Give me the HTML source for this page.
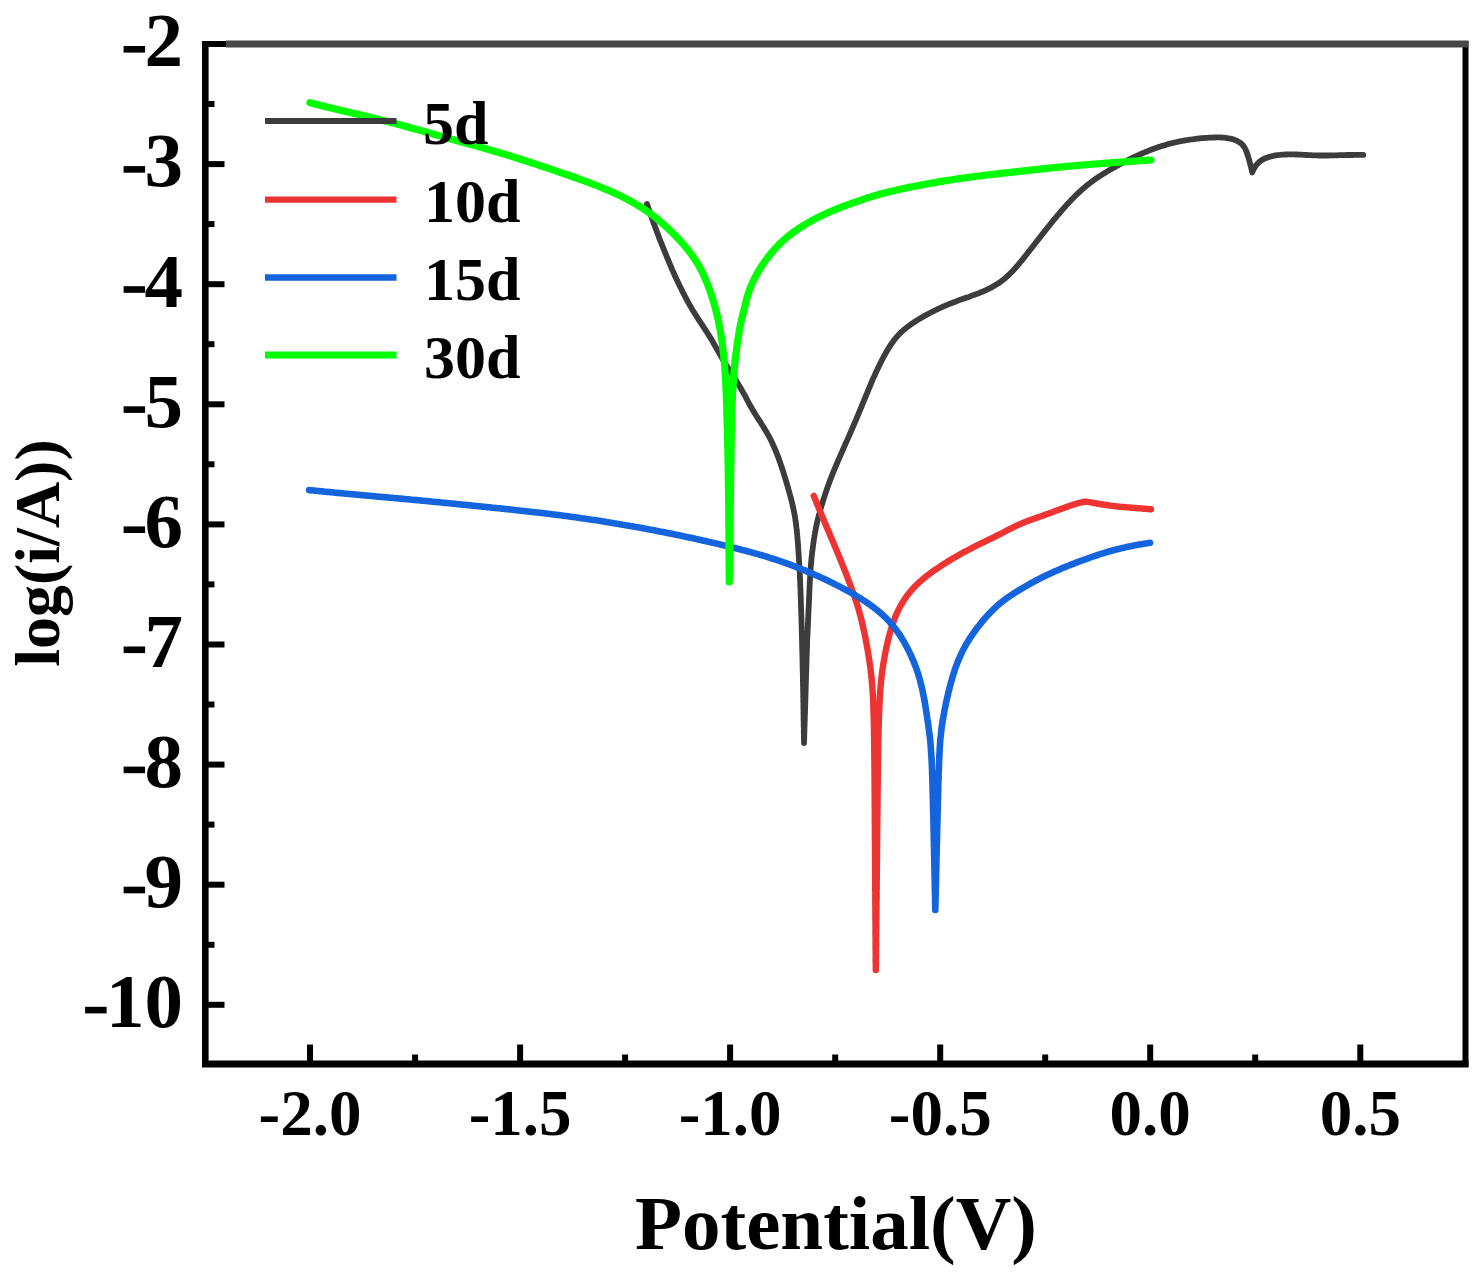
<!DOCTYPE html>
<html><head><meta charset="utf-8"><style>
html,body{margin:0;padding:0;background:#fff;}
body{width:1479px;height:1286px;overflow:hidden;}
svg{display:block;}
text{font-family:"Liberation Serif",serif;font-weight:bold;fill:#000;}
.yl{font-size:77px;}
.xl{font-size:65px;}
.lt{font-size:62px;}
.at{font-size:77px;}
.at2{font-size:64px;}
</style></head><body>
<svg width="1479" height="1286" viewBox="0 0 1479 1286">
<rect width="1479" height="1286" fill="#fff"/>
<g fill="none" stroke-linejoin="round" stroke-linecap="round">
<path d="M647.0,204.0L647.5,205.4 648.0,206.9 648.4,208.3 648.9,209.7 649.4,211.1 649.9,212.5 650.4,214.0 650.9,215.4 651.4,216.8 651.9,218.2 652.4,219.6 652.9,221.0 653.4,222.5 653.9,223.9 654.5,225.3 655.0,226.7 655.5,228.1 656.0,229.5 656.6,230.9 657.1,232.3 657.6,233.7 658.2,235.1 658.7,236.6 659.2,238.0 659.8,239.4 660.3,240.8 660.9,242.1 661.5,243.5 662.0,244.9 662.6,246.3 663.1,247.7 663.7,249.1 664.3,250.5 664.8,251.9 665.4,253.3 666.0,254.7 666.5,256.1 667.1,257.5 667.7,258.9 668.3,260.3 668.8,261.7 669.4,263.0 670.0,264.4 670.6,265.8 671.2,267.2 671.7,268.6 672.3,270.0 673.0,271.3 673.6,272.7 674.2,274.1 674.8,275.5 675.4,276.8 676.0,278.2 676.7,279.6 677.3,280.9 678.0,282.3 678.6,283.6 679.3,285.0 679.9,286.3 680.6,287.7 681.3,289.0 681.9,290.4 682.6,291.7 683.3,293.1 684.0,294.4 684.7,295.7 685.4,297.1 686.1,298.4 686.8,299.7 687.5,301.1 688.2,302.4 688.9,303.7 689.7,305.0 690.4,306.3 691.2,307.6 691.9,308.9 692.7,310.2 693.5,311.5 694.3,312.8 695.1,314.1 695.9,315.3 696.7,316.6 697.5,317.9 698.3,319.1 699.1,320.4 700.0,321.6 700.8,322.9 701.6,324.1 702.5,325.4 703.3,326.6 704.1,327.9 704.9,329.2 705.7,330.4 706.6,331.7 707.4,333.0 708.2,334.2 709.0,335.5 709.8,336.8 710.6,338.1 711.3,339.3 712.1,340.6 712.9,341.9 713.6,343.2 714.3,344.6 715.1,345.9 715.8,347.2 716.6,348.5 717.3,349.8 718.1,351.1 718.8,352.4 719.5,353.7 720.3,355.0 721.0,356.3 721.8,357.6 722.5,358.9 723.3,360.2 724.0,361.5 724.8,362.8 725.6,364.1 726.4,365.4 727.2,366.7 728.0,367.9 728.8,369.2 729.6,370.5 730.4,371.8 731.2,373.0 732.0,374.3 732.8,375.6 733.6,376.8 734.5,378.1 735.3,379.3 736.1,380.6 736.9,381.9 737.7,383.2 738.4,384.5 739.2,385.7 740.0,387.0 740.7,388.3 741.5,389.6 742.2,390.9 743.0,392.3 743.7,393.6 744.5,394.9 745.2,396.2 745.9,397.5 746.6,398.9 747.3,400.2 748.0,401.5 748.7,402.8 749.4,404.1 750.2,405.5 750.9,406.8 751.7,408.1 752.4,409.4 753.2,410.7 754.0,412.0 754.7,413.2 755.5,414.5 756.3,415.8 757.1,417.1 757.9,418.3 758.7,419.6 759.6,420.9 760.4,422.1 761.2,423.4 762.0,424.7 762.8,426.0 763.6,427.2 764.4,428.5 765.1,429.8 765.9,431.1 766.7,432.4 767.4,433.7 768.2,435.0 768.9,436.3 769.6,437.7 770.3,439.0 771.0,440.3 771.6,441.7 772.3,443.0 772.9,444.4 773.5,445.8 774.1,447.1 774.7,448.5 775.3,449.9 775.9,451.3 776.4,452.7 777.0,454.1 777.5,455.5 778.1,456.9 778.6,458.3 779.1,459.7 779.6,461.2 780.1,462.6 780.6,464.0 781.1,465.4 781.6,466.8 782.0,468.3 782.5,469.7 783.0,471.1 783.4,472.6 783.9,474.0 784.3,475.4 784.8,476.9 785.2,478.3 785.6,479.8 786.1,481.2 786.5,482.6 786.9,484.1 787.4,485.5 787.8,487.0 788.2,488.4 788.6,489.9 789.0,491.3 789.4,492.8 789.8,494.2 790.2,495.7 790.6,497.1 791.0,498.6 791.4,500.0 791.7,501.5 792.1,502.9 792.4,504.4 792.8,505.9 793.1,507.3 793.4,508.8 793.7,510.3 794.0,511.8 794.3,513.2 794.6,514.7 794.9,516.2 795.1,517.7 795.3,519.2 795.5,520.6 795.8,522.1 796.0,523.6 796.1,525.1 796.3,526.6 796.5,528.1 796.7,529.6 796.8,531.1 797.0,532.6 797.1,534.1 797.3,535.6 797.4,537.1 797.5,538.6 797.6,540.1 797.8,541.6 797.9,543.1 798.0,544.6 798.1,546.1 798.2,547.6 798.3,549.1 798.4,550.6 798.5,552.1 798.6,553.6 798.7,555.1 798.8,556.6 798.9,558.1 799.0,559.6 799.1,561.1 799.2,562.6 799.3,564.1 799.3,565.6 799.4,567.1 799.5,568.6 799.6,570.1 799.7,571.6 799.7,573.1 799.8,574.6 799.9,576.1 800.0,577.6 800.0,579.1 800.1,580.6 800.2,582.1 800.2,583.6 800.3,585.1 800.3,586.6 800.4,588.1 800.5,589.6 800.5,591.1 800.6,592.6 800.6,594.1 800.7,595.6 800.7,597.2 800.8,598.7 800.8,600.2 800.9,601.7 800.9,603.2 801.0,604.7 801.0,606.2 801.1,607.7 801.1,609.2 801.2,610.7 801.2,612.2 801.3,613.7 801.3,615.2 801.4,616.7 801.4,618.2 801.5,619.7 801.5,621.2 801.5,622.7 801.6,624.2 801.6,625.7 801.7,627.2 801.7,628.7 801.7,630.2 801.8,631.7 801.8,633.2 801.9,634.7 801.9,636.2 801.9,637.7 802.0,639.2 802.0,640.7 802.1,642.3 802.1,643.8 802.1,645.3 802.2,646.8 802.2,648.3 802.2,649.8 802.3,651.3 802.3,652.8 802.4,654.3 802.4,655.8 802.4,657.3 802.5,658.8 802.5,660.3 802.5,661.8 802.6,663.3 802.6,664.8 802.6,666.3 802.7,667.8 802.7,669.3 802.7,670.8 802.8,672.3 802.8,673.8 802.8,675.3 802.9,676.8 802.9,678.3 802.9,679.8 802.9,681.3 803.0,682.8 803.0,684.4 803.0,685.9 803.1,687.4 803.1,688.9 803.1,690.4 803.1,691.9 803.2,693.4 803.2,694.9 803.2,696.4 803.3,697.9 803.3,699.4 803.3,700.9 803.3,702.4 803.4,703.9 803.4,705.4 803.4,706.9 803.4,708.4 803.5,709.9 803.5,711.4 803.5,712.9 803.5,714.4 803.6,715.9 803.6,717.4 803.6,718.9 803.6,720.4 803.7,721.9 803.7,723.5 803.7,725.0 803.7,726.5 803.8,728.0 803.8,729.5 803.8,731.0 803.8,732.5 803.9,734.0 803.9,735.5 803.9,737.0 803.9,738.5 804.0,740.0 804.0,741.5 804.0,743.0L804.1,741.5 804.1,740.0 804.2,738.5 804.2,737.0 804.2,735.5 804.3,734.0 804.3,732.5 804.4,731.0 804.4,729.5 804.5,728.0 804.5,726.5 804.6,725.0 804.6,723.4 804.7,721.9 804.7,720.4 804.8,718.9 804.8,717.4 804.9,715.9 804.9,714.4 805.0,712.9 805.0,711.4 805.1,709.9 805.1,708.4 805.2,706.9 805.2,705.4 805.3,703.9 805.3,702.4 805.3,700.9 805.4,699.4 805.4,697.9 805.5,696.4 805.5,694.9 805.6,693.4 805.6,691.9 805.7,690.4 805.7,688.9 805.7,687.4 805.8,685.8 805.8,684.3 805.9,682.8 805.9,681.3 806.0,679.8 806.0,678.3 806.0,676.8 806.1,675.3 806.1,673.8 806.2,672.3 806.2,670.8 806.3,669.3 806.3,667.8 806.4,666.3 806.4,664.8 806.5,663.3 806.5,661.8 806.5,660.3 806.6,658.8 806.6,657.3 806.7,655.8 806.7,654.3 806.8,652.8 806.8,651.3 806.9,649.7 806.9,648.2 807.0,646.7 807.0,645.2 807.1,643.7 807.1,642.2 807.2,640.7 807.3,639.2 807.3,637.7 807.4,636.2 807.5,634.7 807.5,633.2 807.6,631.7 807.7,630.2 807.7,628.7 807.8,627.2 807.9,625.7 807.9,624.2 808.0,622.7 808.1,621.2 808.1,619.7 808.2,618.2 808.3,616.7 808.3,615.2 808.4,613.7 808.5,612.2 808.5,610.7 808.6,609.2 808.7,607.7 808.8,606.2 808.8,604.6 808.9,603.1 809.0,601.6 809.0,600.1 809.1,598.6 809.2,597.1 809.2,595.6 809.3,594.1 809.3,592.6 809.4,591.1 809.5,589.6 809.5,588.1 809.6,586.6 809.7,585.1 809.7,583.6 809.8,582.1 809.9,580.6 810.0,579.1 810.1,577.6 810.2,576.1 810.2,574.6 810.3,573.1 810.4,571.6 810.5,570.1 810.6,568.6 810.7,567.1 810.9,565.6 811.0,564.1 811.1,562.6 811.3,561.1 811.4,559.6 811.5,558.1 811.7,556.6 811.9,555.1 812.0,553.6 812.2,552.1 812.4,550.6 812.6,549.1 812.8,547.6 813.0,546.1 813.2,544.6 813.4,543.1 813.6,541.7 813.8,540.2 814.0,538.7 814.3,537.2 814.5,535.7 814.8,534.2 815.0,532.7 815.3,531.3 815.6,529.8 815.8,528.3 816.1,526.8 816.5,525.4 816.8,523.9 817.1,522.4 817.4,521.0 817.8,519.5 818.2,518.0 818.5,516.6 818.9,515.1 819.3,513.7 819.7,512.2 820.1,510.8 820.5,509.3 820.9,507.9 821.3,506.4 821.8,505.0 822.2,503.5 822.6,502.1 823.1,500.7 823.5,499.2 824.0,497.8 824.5,496.4 824.9,494.9 825.4,493.5 825.9,492.1 826.4,490.7 826.9,489.2 827.4,487.8 827.9,486.4 828.4,485.0 828.9,483.6 829.4,482.2 830.0,480.7 830.5,479.3 831.0,477.9 831.6,476.5 832.1,475.1 832.7,473.7 833.2,472.3 833.8,470.9 834.4,469.5 834.9,468.2 835.5,466.8 836.1,465.4 836.7,464.0 837.3,462.6 837.9,461.2 838.5,459.8 839.1,458.5 839.7,457.1 840.3,455.7 840.9,454.3 841.5,452.9 842.1,451.6 842.7,450.2 843.3,448.8 843.9,447.4 844.5,446.1 845.1,444.7 845.7,443.3 846.4,441.9 847.0,440.6 847.6,439.2 848.2,437.8 848.8,436.4 849.4,435.1 850.0,433.7 850.6,432.3 851.2,430.9 851.8,429.5 852.4,428.2 853.0,426.8 853.6,425.4 854.2,424.0 854.8,422.6 855.4,421.3 856.0,419.9 856.6,418.5 857.1,417.1 857.7,415.7 858.3,414.3 858.9,412.9 859.5,411.5 860.0,410.2 860.6,408.8 861.2,407.4 861.8,406.0 862.3,404.6 862.9,403.2 863.5,401.8 864.1,400.4 864.6,399.0 865.2,397.6 865.8,396.2 866.3,394.8 866.9,393.5 867.5,392.1 868.1,390.7 868.6,389.3 869.2,387.9 869.8,386.5 870.4,385.1 871.0,383.7 871.5,382.3 872.1,381.0 872.7,379.6 873.3,378.2 874.0,376.8 874.6,375.5 875.2,374.1 875.8,372.7 876.4,371.3 877.1,370.0 877.7,368.6 878.4,367.3 879.0,365.9 879.7,364.6 880.4,363.2 881.1,361.9 881.7,360.5 882.4,359.2 883.1,357.9 883.8,356.5 884.6,355.2 885.3,353.9 886.0,352.6 886.8,351.3 887.5,350.0 888.3,348.7 889.1,347.4 889.9,346.1 890.7,344.9 891.6,343.6 892.4,342.4 893.3,341.2 894.2,340.0 895.1,338.8 896.1,337.6 897.1,336.5 898.1,335.4 899.1,334.3 900.2,333.2 901.3,332.1 902.4,331.1 903.5,330.1 904.6,329.2 905.8,328.2 907.0,327.3 908.2,326.4 909.4,325.5 910.6,324.6 911.9,323.7 913.1,322.9 914.4,322.0 915.6,321.2 916.9,320.4 918.2,319.6 919.5,318.8 920.8,318.1 922.1,317.3 923.4,316.6 924.7,315.8 926.0,315.1 927.3,314.4 928.6,313.7 930.0,313.0 931.3,312.3 932.6,311.6 934.0,310.9 935.3,310.2 936.7,309.6 938.1,308.9 939.4,308.3 940.8,307.7 942.2,307.0 943.5,306.4 944.9,305.8 946.3,305.3 947.7,304.7 949.1,304.1 950.5,303.6 951.9,303.0 953.3,302.5 954.7,301.9 956.1,301.4 957.5,300.8 958.9,300.3 960.3,299.8 961.8,299.3 963.2,298.8 964.6,298.3 966.0,297.8 967.4,297.4 968.9,296.9 970.3,296.3 971.7,295.8 973.1,295.3 974.5,294.8 975.9,294.2 977.3,293.7 978.7,293.2 980.2,292.6 981.6,292.1 982.9,291.5 984.3,290.9 985.7,290.3 987.0,289.6 988.4,289.0 989.7,288.3 991.1,287.6 992.4,286.9 993.7,286.1 995.0,285.4 996.3,284.6 997.6,283.8 998.8,283.0 1000.1,282.1 1001.3,281.2 1002.5,280.3 1003.6,279.4 1004.8,278.4 1006.0,277.4 1007.1,276.4 1008.2,275.4 1009.3,274.4 1010.4,273.3 1011.4,272.3 1012.5,271.2 1013.5,270.1 1014.5,269.0 1015.5,267.8 1016.5,266.7 1017.5,265.6 1018.5,264.4 1019.5,263.3 1020.4,262.1 1021.4,261.0 1022.3,259.8 1023.3,258.6 1024.2,257.4 1025.1,256.2 1026.1,255.1 1027.0,253.9 1027.9,252.7 1028.8,251.5 1029.8,250.3 1030.7,249.1 1031.6,248.0 1032.6,246.8 1033.5,245.6 1034.4,244.4 1035.3,243.2 1036.3,242.0 1037.2,240.8 1038.1,239.7 1039.0,238.5 1040.0,237.3 1040.9,236.1 1041.8,234.9 1042.8,233.7 1043.7,232.6 1044.6,231.4 1045.6,230.2 1046.5,229.0 1047.4,227.8 1048.4,226.7 1049.3,225.5 1050.3,224.3 1051.2,223.1 1052.1,222.0 1053.1,220.8 1054.0,219.6 1055.0,218.5 1056.0,217.3 1056.9,216.2 1057.9,215.0 1058.9,213.9 1059.8,212.7 1060.8,211.6 1061.8,210.4 1062.8,209.3 1063.8,208.2 1064.8,207.0 1065.8,205.9 1066.8,204.8 1067.8,203.7 1068.8,202.6 1069.9,201.5 1070.9,200.4 1071.9,199.3 1073.0,198.2 1074.0,197.1 1075.1,196.1 1076.2,195.0 1077.2,194.0 1078.3,193.0 1079.4,191.9 1080.6,190.9 1081.7,189.9 1082.8,188.9 1083.9,187.9 1085.1,186.9 1086.2,186.0 1087.4,185.0 1088.6,184.1 1089.8,183.2 1091.0,182.3 1092.2,181.4 1093.4,180.5 1094.6,179.6 1095.9,178.7 1097.1,177.9 1098.4,177.0 1099.6,176.2 1100.9,175.4 1102.1,174.6 1103.4,173.8 1104.7,173.0 1106.0,172.2 1107.2,171.4 1108.5,170.6 1109.8,169.9 1111.1,169.1 1112.5,168.4 1113.8,167.6 1115.1,166.9 1116.4,166.2 1117.7,165.5 1119.0,164.7 1120.4,164.0 1121.7,163.3 1123.0,162.6 1124.4,161.9 1125.7,161.3 1127.0,160.6 1128.4,159.9 1129.7,159.2 1131.1,158.5 1132.4,157.9 1133.8,157.2 1135.2,156.6 1136.5,156.0 1137.9,155.3 1139.3,154.7 1140.6,154.1 1142.0,153.5 1143.4,152.9 1144.8,152.3 1146.2,151.7 1147.6,151.2 1149.0,150.6 1150.4,150.0 1151.8,149.5 1153.2,148.9 1154.6,148.4 1156.0,147.9 1157.4,147.4 1158.8,146.9 1160.3,146.5 1161.7,146.0 1163.1,145.6 1164.6,145.2 1166.0,144.7 1167.5,144.3 1168.9,143.9 1170.4,143.5 1171.9,143.2 1173.3,142.8 1174.8,142.5 1176.3,142.2 1177.7,141.8 1179.2,141.5 1180.7,141.2 1182.2,141.0 1183.6,140.7 1185.1,140.4 1186.6,140.2 1188.1,140.0 1189.6,139.7 1191.1,139.5 1192.6,139.3 1194.1,139.1 1195.5,138.9 1197.0,138.7 1198.5,138.5 1200.0,138.4 1201.5,138.2 1203.0,138.1 1204.5,138.0 1206.0,137.9 1207.5,137.8 1209.0,137.7 1210.5,137.6 1212.0,137.6 1213.5,137.5 1215.1,137.5 1216.6,137.4 1218.1,137.4 1219.6,137.4 1221.1,137.5 1222.6,137.6 1224.1,137.7 1225.6,137.9 1227.1,138.1 1228.6,138.3 1230.0,138.6 1231.5,138.9 1233.0,139.3 1234.4,139.8 1235.8,140.4 1237.2,141.0 1238.5,141.7 1239.8,142.5 1241.0,143.4 1242.1,144.4 1243.1,145.5 1244.0,146.8 1244.8,148.1 1245.5,149.4 1246.1,150.8 1246.6,152.2 1247.2,153.6 1247.6,155.0 1248.1,156.5 1248.5,157.9 1249.0,159.3 1249.4,160.8 1249.7,162.3 1250.1,163.7 1250.5,165.2 1250.9,166.6 1251.2,168.1 1251.6,169.6 1251.9,171.0 1252.2,172.5L1252.8,171.0 1253.4,169.6 1254.2,168.3 1255.0,167.0 1255.8,165.7 1256.8,164.5 1257.8,163.3 1258.9,162.2 1260.1,161.3 1261.3,160.4 1262.6,159.6 1264.0,158.9 1265.4,158.2 1266.8,157.7 1268.3,157.2 1269.8,156.7 1271.3,156.3 1272.8,156.0 1274.3,155.7 1275.8,155.4 1277.3,155.2 1278.8,155.0 1280.4,154.8 1281.9,154.7 1283.4,154.6 1285.0,154.5 1286.5,154.5 1288.0,154.4 1289.6,154.4 1291.1,154.4 1292.6,154.4 1294.2,154.4 1295.7,154.5 1297.2,154.5 1298.8,154.6 1300.3,154.7 1301.9,154.7 1303.4,154.8 1304.9,154.9 1306.5,155.0 1308.0,155.1 1309.5,155.2 1311.1,155.2 1312.6,155.3 1314.1,155.4 1315.7,155.4 1317.2,155.4 1318.7,155.5 1320.3,155.5 1321.8,155.5 1323.3,155.5 1324.9,155.5 1326.4,155.5 1328.0,155.5 1329.5,155.4 1331.0,155.4 1332.6,155.4 1334.1,155.3 1335.6,155.3 1337.2,155.3 1338.7,155.2 1340.3,155.2 1341.8,155.2 1343.3,155.1 1344.9,155.1 1346.4,155.0 1347.9,155.0 1349.5,155.0 1351.0,155.0 1352.5,155.0 1354.1,154.9 1355.6,154.9 1357.2,154.9 1358.7,154.9 1360.2,154.9 1361.8,154.9 1363.3,154.9" stroke="#3c3c3c" stroke-width="5.8"/><path d="M813.8,495.9L814.4,497.3 814.9,498.7 815.5,500.1 816.1,501.5 816.6,502.9 817.2,504.3 817.8,505.7 818.4,507.1 818.9,508.5 819.5,509.9 820.1,511.3 820.7,512.6 821.2,514.0 821.8,515.4 822.4,516.8 823.0,518.2 823.6,519.6 824.2,521.0 824.7,522.4 825.3,523.8 825.9,525.2 826.5,526.5 827.1,527.9 827.7,529.3 828.3,530.7 828.9,532.1 829.4,533.5 830.0,534.9 830.6,536.3 831.2,537.6 831.8,539.0 832.4,540.4 833.0,541.8 833.6,543.2 834.1,544.6 834.7,546.0 835.3,547.4 835.9,548.8 836.5,550.2 837.1,551.5 837.6,552.9 838.2,554.3 838.8,555.7 839.4,557.1 839.9,558.5 840.5,559.9 841.1,561.3 841.6,562.7 842.2,564.1 842.8,565.5 843.3,566.9 843.9,568.3 844.4,569.7 845.0,571.1 845.5,572.5 846.1,573.9 846.6,575.3 847.2,576.7 847.7,578.1 848.2,579.6 848.8,581.0 849.3,582.4 849.9,583.8 850.4,585.2 850.9,586.6 851.4,588.0 851.9,589.4 852.4,590.9 853.0,592.3 853.5,593.7 854.0,595.1 854.5,596.5 855.0,598.0 855.4,599.4 855.9,600.8 856.4,602.3 856.9,603.7 857.3,605.1 857.7,606.6 858.2,608.0 858.6,609.5 859.0,610.9 859.4,612.4 859.8,613.8 860.2,615.3 860.6,616.7 861.0,618.2 861.4,619.7 861.7,621.1 862.1,622.6 862.4,624.1 862.8,625.5 863.1,627.0 863.4,628.5 863.7,629.9 864.1,631.4 864.4,632.9 864.7,634.4 865.0,635.8 865.3,637.3 865.6,638.8 865.8,640.3 866.1,641.8 866.4,643.3 866.7,644.7 867.0,646.2 867.2,647.7 867.5,649.2 867.7,650.7 868.0,652.2 868.2,653.6 868.5,655.1 868.7,656.6 868.9,658.1 869.2,659.6 869.4,661.1 869.6,662.6 869.8,664.1 870.1,665.6 870.3,667.1 870.5,668.6 870.7,670.1 870.8,671.6 871.0,673.1 871.2,674.6 871.3,676.0 871.5,677.5 871.6,679.0 871.8,680.6 871.9,682.1 872.0,683.6 872.2,685.1 872.3,686.6 872.4,688.1 872.5,689.6 872.6,691.1 872.7,692.6 872.8,694.1 872.9,695.6 873.0,697.1 873.0,698.6 873.1,700.1 873.2,701.6 873.2,703.1 873.3,704.6 873.3,706.1 873.4,707.6 873.4,709.1 873.5,710.7 873.5,712.2 873.6,713.7 873.6,715.2 873.7,716.7 873.7,718.2 873.8,719.7 873.8,721.2 873.8,722.7 873.9,724.2 873.9,725.7 873.9,727.2 874.0,728.7 874.0,730.3 874.0,731.8 874.0,733.3 874.1,734.8 874.1,736.3 874.1,737.8 874.1,739.3 874.2,740.8 874.2,742.3 874.2,743.8 874.2,745.3 874.2,746.8 874.2,748.3 874.3,749.9 874.3,751.4 874.3,752.9 874.3,754.4 874.3,755.9 874.3,757.4 874.4,758.9 874.4,760.4 874.4,761.9 874.4,763.4 874.4,764.9 874.4,766.4 874.4,767.9 874.5,769.5 874.5,771.0 874.5,772.5 874.5,774.0 874.5,775.5 874.5,777.0 874.5,778.5 874.5,780.0 874.6,781.5 874.6,783.0 874.6,784.5 874.6,786.0 874.6,787.6 874.6,789.1 874.6,790.6 874.6,792.1 874.6,793.6 874.7,795.1 874.7,796.6 874.7,798.1 874.7,799.6 874.7,801.1 874.7,802.6 874.7,804.1 874.7,805.6 874.7,807.2 874.8,808.7 874.8,810.2 874.8,811.7 874.8,813.2 874.8,814.7 874.8,816.2 874.8,817.7 874.8,819.2 874.8,820.7 874.8,822.2 874.8,823.7 874.9,825.2 874.9,826.8 874.9,828.3 874.9,829.8 874.9,831.3 874.9,832.8 874.9,834.3 874.9,835.8 874.9,837.3 874.9,838.8 874.9,840.3 874.9,841.8 875.0,843.3 875.0,844.8 875.0,846.4 875.0,847.9 875.0,849.4 875.0,850.9 875.0,852.4 875.0,853.9 875.0,855.4 875.0,856.9 875.0,858.4 875.1,859.9 875.1,861.4 875.1,862.9 875.1,864.5 875.1,866.0 875.1,867.5 875.1,869.0 875.1,870.5 875.1,872.0 875.1,873.5 875.2,875.0 875.2,876.5 875.2,878.0 875.2,879.5 875.2,881.0 875.2,882.5 875.2,884.1 875.2,885.6 875.2,887.1 875.2,888.6 875.2,890.1 875.3,891.6 875.3,893.1 875.3,894.6 875.3,896.1 875.3,897.6 875.3,899.1 875.3,900.6 875.3,902.1 875.3,903.7 875.3,905.2 875.4,906.7 875.4,908.2 875.4,909.7 875.4,911.2 875.4,912.7 875.4,914.2 875.4,915.7 875.4,917.2 875.4,918.7 875.4,920.2 875.5,921.7 875.5,923.3 875.5,924.8 875.5,926.3 875.5,927.8 875.5,929.3 875.5,930.8 875.5,932.3 875.5,933.8 875.5,935.3 875.6,936.8 875.6,938.3 875.6,939.8 875.6,941.4 875.6,942.9 875.6,944.4 875.6,945.9 875.6,947.4 875.6,948.9 875.7,950.4 875.7,951.9 875.7,953.4 875.7,954.9 875.7,956.4 875.7,957.9 875.7,959.4 875.7,961.0 875.7,962.5 875.8,964.0 875.8,965.5 875.8,967.0 875.8,968.5 875.8,970.0L875.8,968.5 875.8,967.0 875.9,965.5 875.9,964.0 875.9,962.5 875.9,961.0 875.9,959.5 875.9,958.0 876.0,956.5 876.0,955.0 876.0,953.4 876.0,951.9 876.0,950.4 876.0,948.9 876.1,947.4 876.1,945.9 876.1,944.4 876.1,942.9 876.1,941.4 876.1,939.9 876.2,938.4 876.2,936.9 876.2,935.4 876.2,933.9 876.2,932.4 876.2,930.9 876.3,929.4 876.3,927.9 876.3,926.4 876.3,924.9 876.3,923.3 876.3,921.8 876.3,920.3 876.4,918.8 876.4,917.3 876.4,915.8 876.4,914.3 876.4,912.8 876.4,911.3 876.5,909.8 876.5,908.3 876.5,906.8 876.5,905.3 876.5,903.8 876.5,902.3 876.5,900.8 876.6,899.3 876.6,897.8 876.6,896.3 876.6,894.8 876.6,893.2 876.6,891.7 876.6,890.2 876.7,888.7 876.7,887.2 876.7,885.7 876.7,884.2 876.7,882.7 876.7,881.2 876.7,879.7 876.8,878.2 876.8,876.7 876.8,875.2 876.8,873.7 876.8,872.2 876.8,870.7 876.8,869.2 876.9,867.7 876.9,866.2 876.9,864.7 876.9,863.1 876.9,861.6 876.9,860.1 877.0,858.6 877.0,857.1 877.0,855.6 877.0,854.1 877.0,852.6 877.0,851.1 877.0,849.6 877.1,848.1 877.1,846.6 877.1,845.1 877.1,843.6 877.1,842.1 877.1,840.6 877.1,839.1 877.2,837.6 877.2,836.1 877.2,834.6 877.2,833.0 877.2,831.5 877.2,830.0 877.2,828.5 877.3,827.0 877.3,825.5 877.3,824.0 877.3,822.5 877.3,821.0 877.3,819.5 877.3,818.0 877.4,816.5 877.4,815.0 877.4,813.5 877.4,812.0 877.4,810.5 877.4,809.0 877.5,807.5 877.5,806.0 877.5,804.5 877.5,802.9 877.5,801.4 877.5,799.9 877.5,798.4 877.6,796.9 877.6,795.4 877.6,793.9 877.6,792.4 877.6,790.9 877.7,789.4 877.7,787.9 877.7,786.4 877.7,784.9 877.7,783.4 877.8,781.9 877.8,780.4 877.8,778.9 877.8,777.4 877.8,775.9 877.8,774.4 877.9,772.8 877.9,771.3 877.9,769.8 877.9,768.3 877.9,766.8 878.0,765.3 878.0,763.8 878.0,762.3 878.0,760.8 878.1,759.3 878.1,757.8 878.1,756.3 878.1,754.8 878.2,753.3 878.2,751.8 878.2,750.3 878.2,748.8 878.3,747.3 878.3,745.8 878.3,744.3 878.3,742.7 878.4,741.2 878.4,739.7 878.4,738.2 878.5,736.7 878.5,735.2 878.5,733.7 878.6,732.2 878.6,730.7 878.6,729.2 878.7,727.7 878.7,726.2 878.8,724.7 878.8,723.2 878.8,721.7 878.9,720.2 878.9,718.7 879.0,717.2 879.0,715.7 879.1,714.2 879.2,712.7 879.2,711.2 879.3,709.6 879.3,708.1 879.4,706.6 879.5,705.1 879.5,703.6 879.6,702.1 879.7,700.6 879.7,699.1 879.8,697.6 879.9,696.1 880.0,694.6 880.1,693.1 880.2,691.6 880.3,690.1 880.5,688.6 880.6,687.1 880.7,685.6 880.8,684.1 881.0,682.6 881.1,681.1 881.3,679.6 881.4,678.1 881.6,676.6 881.8,675.1 881.9,673.6 882.1,672.1 882.3,670.7 882.5,669.2 882.8,667.7 883.0,666.2 883.2,664.7 883.5,663.2 883.7,661.7 884.0,660.2 884.2,658.8 884.5,657.3 884.7,655.8 885.0,654.3 885.3,652.8 885.6,651.4 885.9,649.9 886.2,648.4 886.5,646.9 886.8,645.5 887.2,644.0 887.5,642.5 887.8,641.1 888.2,639.6 888.6,638.1 888.9,636.7 889.3,635.2 889.7,633.8 890.1,632.3 890.5,630.9 891.0,629.4 891.4,628.0 891.8,626.5 892.3,625.1 892.8,623.7 893.3,622.3 893.8,620.9 894.3,619.4 894.9,618.0 895.4,616.6 896.0,615.2 896.6,613.9 897.2,612.5 897.9,611.1 898.5,609.8 899.2,608.4 899.9,607.1 900.6,605.8 901.4,604.5 902.1,603.2 902.9,601.9 903.7,600.6 904.5,599.3 905.4,598.1 906.2,596.9 907.1,595.7 908.0,594.5 909.0,593.3 909.9,592.1 910.9,590.9 911.9,589.8 912.9,588.7 913.9,587.6 914.9,586.5 916.0,585.4 917.1,584.3 918.1,583.3 919.2,582.3 920.4,581.3 921.5,580.3 922.7,579.3 923.8,578.3 925.0,577.4 926.1,576.4 927.3,575.5 928.5,574.6 929.7,573.7 930.9,572.8 932.1,571.9 933.4,571.0 934.6,570.2 935.9,569.3 937.1,568.5 938.4,567.6 939.6,566.8 940.9,566.0 942.1,565.1 943.4,564.3 944.7,563.5 945.9,562.7 947.2,561.9 948.5,561.1 949.8,560.4 951.1,559.6 952.4,558.8 953.7,558.0 955.0,557.3 956.3,556.5 957.6,555.8 958.9,555.0 960.2,554.3 961.5,553.5 962.8,552.8 964.1,552.1 965.5,551.4 966.8,550.7 968.1,550.0 969.4,549.3 970.8,548.6 972.1,547.9 973.5,547.2 974.8,546.5 976.1,545.8 977.5,545.2 978.8,544.5 980.2,543.8 981.5,543.2 982.9,542.5 984.3,541.9 985.6,541.2 987.0,540.6 988.3,539.9 989.7,539.3 991.0,538.6 992.4,537.9 993.7,537.3 995.1,536.6 996.4,535.9 997.8,535.2 999.1,534.6 1000.5,533.9 1001.8,533.2 1003.1,532.5 1004.5,531.8 1005.8,531.1 1007.1,530.4 1008.5,529.7 1009.8,529.0 1011.2,528.4 1012.5,527.7 1013.9,527.0 1015.2,526.4 1016.6,525.7 1017.9,525.1 1019.3,524.5 1020.7,523.9 1022.1,523.3 1023.5,522.7 1024.9,522.1 1026.3,521.6 1027.7,521.0 1029.1,520.5 1030.5,520.0 1031.9,519.4 1033.3,518.9 1034.7,518.4 1036.1,517.9 1037.6,517.4 1039.0,516.9 1040.4,516.4 1041.8,515.9 1043.2,515.4 1044.6,514.9 1046.1,514.4 1047.5,513.9 1048.9,513.4 1050.3,512.9 1051.7,512.4 1053.1,511.9 1054.6,511.3 1056.0,510.8 1057.4,510.3 1058.8,509.8 1060.2,509.3 1061.6,508.8 1063.0,508.2 1064.5,507.7 1065.9,507.2 1067.3,506.7 1068.7,506.2 1070.1,505.7 1071.6,505.2 1073.0,504.8 1074.4,504.3 1075.9,503.9 1077.3,503.4 1078.8,503.0 1080.2,502.6 1081.7,502.3 1083.1,501.9 1084.6,501.6L1086.1,501.7 1087.7,501.9 1089.2,502.2 1090.7,502.4 1092.3,502.7 1093.8,503.0 1095.3,503.2 1096.9,503.5 1098.4,503.8 1099.9,504.0 1101.5,504.3 1103.0,504.5 1104.5,504.8 1106.1,505.0 1107.6,505.2 1109.2,505.5 1110.7,505.7 1112.3,505.9 1113.8,506.1 1115.3,506.2 1116.9,506.4 1118.4,506.6 1120.0,506.7 1121.5,506.9 1123.1,507.0 1124.6,507.1 1126.2,507.3 1127.7,507.4 1129.3,507.5 1130.8,507.7 1132.4,507.8 1133.9,507.9 1135.5,508.0 1137.0,508.2 1138.6,508.3 1140.1,508.4 1141.7,508.5 1143.2,508.7 1144.8,508.8 1146.3,508.9 1147.9,509.0 1149.4,509.2 1151.0,509.3" stroke="#ee3333" stroke-width="6.4"/><path d="M309.1,490.1L310.6,490.2 312.1,490.4 313.6,490.5 315.1,490.7 316.6,490.8 318.1,491.0 319.6,491.1 321.1,491.3 322.6,491.4 324.1,491.6 325.6,491.7 327.1,491.9 328.6,492.0 330.1,492.1 331.5,492.3 333.0,492.4 334.5,492.6 336.0,492.7 337.5,492.9 339.0,493.0 340.5,493.1 342.0,493.3 343.5,493.4 345.0,493.6 346.5,493.7 348.0,493.8 349.5,494.0 351.0,494.1 352.5,494.3 354.0,494.4 355.5,494.5 357.0,494.7 358.5,494.8 360.0,495.0 361.5,495.1 363.0,495.2 364.5,495.4 366.0,495.5 367.5,495.6 369.0,495.8 370.5,495.9 372.0,496.0 373.5,496.2 375.0,496.3 376.5,496.5 378.0,496.6 379.5,496.7 381.0,496.9 382.4,497.0 383.9,497.1 385.4,497.3 386.9,497.4 388.4,497.5 389.9,497.7 391.4,497.8 392.9,497.9 394.4,498.1 395.9,498.2 397.4,498.3 398.9,498.5 400.4,498.6 401.9,498.8 403.4,498.9 404.9,499.0 406.4,499.2 407.9,499.3 409.4,499.4 410.9,499.6 412.4,499.7 413.9,499.9 415.4,500.0 416.9,500.1 418.4,500.3 419.9,500.4 421.4,500.6 422.9,500.7 424.4,500.8 425.9,501.0 427.4,501.1 428.9,501.3 430.4,501.4 431.9,501.6 433.3,501.7 434.8,501.9 436.3,502.0 437.8,502.1 439.3,502.3 440.8,502.4 442.3,502.6 443.8,502.7 445.3,502.9 446.8,503.0 448.3,503.2 449.8,503.3 451.3,503.5 452.8,503.6 454.3,503.8 455.8,503.9 457.3,504.1 458.8,504.2 460.3,504.4 461.8,504.5 463.3,504.7 464.8,504.8 466.3,505.0 467.8,505.1 469.3,505.3 470.8,505.4 472.2,505.6 473.7,505.7 475.2,505.9 476.7,506.0 478.2,506.2 479.7,506.3 481.2,506.5 482.7,506.7 484.2,506.8 485.7,507.0 487.2,507.1 488.7,507.3 490.2,507.4 491.7,507.6 493.2,507.7 494.7,507.9 496.2,508.0 497.7,508.2 499.2,508.3 500.7,508.5 502.2,508.6 503.7,508.8 505.2,509.0 506.6,509.1 508.1,509.3 509.6,509.4 511.1,509.6 512.6,509.8 514.1,509.9 515.6,510.1 517.1,510.2 518.6,510.4 520.1,510.6 521.6,510.7 523.1,510.9 524.6,511.1 526.1,511.2 527.6,511.4 529.1,511.6 530.6,511.7 532.1,511.9 533.6,512.1 535.0,512.2 536.5,512.4 538.0,512.6 539.5,512.8 541.0,512.9 542.5,513.1 544.0,513.3 545.5,513.5 547.0,513.6 548.5,513.8 550.0,514.0 551.5,514.2 553.0,514.4 554.4,514.6 555.9,514.8 557.4,514.9 558.9,515.1 560.4,515.3 561.9,515.5 563.4,515.7 564.9,515.9 566.4,516.1 567.9,516.3 569.4,516.5 570.8,516.7 572.3,516.9 573.8,517.1 575.3,517.3 576.8,517.5 578.3,517.7 579.8,517.9 581.3,518.2 582.8,518.4 584.3,518.6 585.7,518.8 587.2,519.0 588.7,519.2 590.2,519.5 591.7,519.7 593.2,519.9 594.7,520.1 596.1,520.3 597.6,520.6 599.1,520.8 600.6,521.0 602.1,521.3 603.6,521.5 605.1,521.7 606.5,522.0 608.0,522.2 609.5,522.5 611.0,522.7 612.5,522.9 614.0,523.2 615.5,523.4 616.9,523.7 618.4,523.9 619.9,524.2 621.4,524.4 622.9,524.7 624.3,524.9 625.8,525.2 627.3,525.4 628.8,525.7 630.3,526.0 631.8,526.2 633.2,526.5 634.7,526.8 636.2,527.0 637.7,527.3 639.1,527.6 640.6,527.8 642.1,528.1 643.6,528.4 645.1,528.6 646.5,528.9 648.0,529.2 649.5,529.5 651.0,529.8 652.5,530.0 653.9,530.3 655.4,530.6 656.9,530.9 658.4,531.2 659.8,531.5 661.3,531.7 662.8,532.0 664.3,532.3 665.7,532.6 667.2,532.9 668.7,533.2 670.2,533.5 671.6,533.8 673.1,534.1 674.6,534.4 676.0,534.7 677.5,535.0 679.0,535.3 680.5,535.6 681.9,535.9 683.4,536.2 684.9,536.6 686.4,536.9 687.8,537.2 689.3,537.5 690.8,537.8 692.2,538.1 693.7,538.4 695.2,538.8 696.6,539.1 698.1,539.4 699.6,539.7 701.0,540.1 702.5,540.4 704.0,540.7 705.4,541.1 706.9,541.4 708.4,541.7 709.8,542.1 711.3,542.4 712.8,542.7 714.2,543.1 715.7,543.4 717.2,543.8 718.6,544.1 720.1,544.4 721.6,544.8 723.0,545.1 724.5,545.5 725.9,545.8 727.4,546.2 728.9,546.6 730.3,546.9 731.8,547.3 733.2,547.6 734.7,548.0 736.2,548.4 737.6,548.7 739.1,549.1 740.5,549.5 742.0,549.9 743.4,550.2 744.9,550.6 746.3,551.0 747.8,551.4 749.3,551.8 750.7,552.2 752.2,552.6 753.6,553.0 755.1,553.4 756.5,553.8 757.9,554.2 759.4,554.6 760.8,555.0 762.3,555.4 763.7,555.9 765.2,556.3 766.6,556.7 768.0,557.2 769.5,557.6 770.9,558.1 772.3,558.5 773.8,559.0 775.2,559.4 776.6,559.9 778.1,560.4 779.5,560.9 780.9,561.3 782.3,561.8 783.8,562.3 785.2,562.8 786.6,563.3 788.0,563.9 789.4,564.4 790.8,564.9 792.2,565.4 793.6,566.0 795.0,566.5 796.4,567.1 797.8,567.6 799.2,568.2 800.6,568.7 802.0,569.3 803.4,569.8 804.8,570.4 806.2,571.0 807.6,571.6 809.0,572.2 810.3,572.8 811.7,573.4 813.1,574.0 814.5,574.6 815.9,575.2 817.2,575.8 818.6,576.4 820.0,577.0 821.3,577.7 822.7,578.3 824.1,578.9 825.4,579.6 826.8,580.2 828.1,580.9 829.5,581.5 830.8,582.2 832.2,582.8 833.5,583.5 834.9,584.2 836.2,584.9 837.6,585.6 838.9,586.2 840.2,586.9 841.6,587.6 842.9,588.3 844.2,589.0 845.5,589.8 846.9,590.5 848.2,591.2 849.5,591.9 850.8,592.7 852.1,593.4 853.4,594.2 854.7,594.9 856.0,595.7 857.3,596.5 858.6,597.3 859.9,598.0 861.1,598.8 862.4,599.6 863.7,600.5 864.9,601.3 866.2,602.1 867.4,602.9 868.7,603.8 869.9,604.7 871.1,605.5 872.3,606.4 873.5,607.3 874.7,608.3 875.9,609.2 877.1,610.1 878.3,611.1 879.4,612.1 880.6,613.0 881.7,614.0 882.8,615.0 883.9,616.1 885.0,617.1 886.1,618.1 887.1,619.2 888.1,620.3 889.1,621.4 890.2,622.5 891.1,623.7 892.1,624.8 893.1,626.0 894.0,627.2 895.0,628.4 895.9,629.6 896.8,630.8 897.6,632.0 898.5,633.2 899.3,634.4 900.2,635.7 901.0,637.0 901.8,638.3 902.6,639.5 903.3,640.8 904.1,642.1 904.8,643.5 905.6,644.8 906.3,646.1 907.0,647.4 907.7,648.7 908.4,650.1 909.0,651.4 909.7,652.8 910.3,654.1 911.0,655.5 911.6,656.9 912.2,658.3 912.8,659.6 913.4,661.0 914.0,662.4 914.5,663.8 915.0,665.2 915.6,666.6 916.1,668.0 916.6,669.4 917.1,670.9 917.6,672.3 918.1,673.7 918.5,675.2 918.9,676.6 919.4,678.0 919.8,679.5 920.2,680.9 920.5,682.4 920.9,683.8 921.3,685.3 921.6,686.8 922.0,688.2 922.3,689.7 922.6,691.2 922.9,692.7 923.2,694.1 923.5,695.6 923.8,697.1 924.1,698.5 924.4,700.0 924.6,701.5 924.9,703.0 925.1,704.5 925.4,706.0 925.6,707.4 925.8,708.9 926.1,710.4 926.3,711.9 926.5,713.4 926.8,714.9 927.0,716.4 927.2,717.8 927.4,719.3 927.7,720.8 927.9,722.3 928.1,723.8 928.3,725.3 928.5,726.8 928.7,728.3 928.9,729.8 929.1,731.2 929.3,732.7 929.5,734.2 929.7,735.7 929.9,737.2 930.0,738.7 930.2,740.2 930.3,741.7 930.5,743.2 930.6,744.7 930.7,746.2 930.8,747.7 930.9,749.2 931.0,750.7 931.1,752.2 931.2,753.7 931.3,755.2 931.4,756.7 931.5,758.2 931.6,759.7 931.7,761.2 931.7,762.7 931.8,764.2 931.9,765.7 931.9,767.2 932.0,768.7 932.0,770.2 932.1,771.7 932.1,773.2 932.2,774.7 932.2,776.2 932.3,777.7 932.3,779.2 932.4,780.7 932.4,782.2 932.5,783.7 932.5,785.2 932.6,786.7 932.6,788.2 932.6,789.7 932.7,791.3 932.7,792.8 932.8,794.3 932.8,795.8 932.8,797.3 932.9,798.8 932.9,800.3 933.0,801.8 933.0,803.3 933.0,804.8 933.1,806.3 933.1,807.8 933.1,809.3 933.2,810.8 933.2,812.3 933.2,813.8 933.3,815.3 933.3,816.8 933.4,818.3 933.4,819.8 933.4,821.3 933.5,822.8 933.5,824.3 933.5,825.8 933.5,827.3 933.6,828.8 933.6,830.3 933.6,831.8 933.7,833.3 933.7,834.8 933.7,836.3 933.8,837.8 933.8,839.4 933.8,840.9 933.9,842.4 933.9,843.9 933.9,845.4 934.0,846.9 934.0,848.4 934.0,849.9 934.1,851.4 934.1,852.9 934.1,854.4 934.2,855.9 934.2,857.4 934.2,858.9 934.3,860.4 934.3,861.9 934.3,863.4 934.3,864.9 934.4,866.4 934.4,867.9 934.4,869.4 934.5,870.9 934.5,872.4 934.5,873.9 934.6,875.4 934.6,876.9 934.6,878.4 934.7,879.9 934.7,881.4 934.7,882.9 934.8,884.4 934.8,885.9 934.8,887.5 934.9,889.0 934.9,890.5 934.9,892.0 935.0,893.5 935.0,895.0 935.0,896.5 935.1,898.0 935.1,899.5 935.1,901.0 935.1,902.5 935.2,904.0 935.2,905.5 935.2,907.0 935.3,908.5 935.3,910.0L935.3,908.5 935.4,907.0 935.4,905.5 935.4,904.0 935.5,902.5 935.5,901.0 935.5,899.5 935.6,898.0 935.6,896.4 935.7,894.9 935.7,893.4 935.7,891.9 935.8,890.4 935.8,888.9 935.8,887.4 935.9,885.9 935.9,884.4 935.9,882.9 936.0,881.4 936.0,879.9 936.0,878.4 936.1,876.9 936.1,875.4 936.1,873.9 936.2,872.4 936.2,870.9 936.3,869.3 936.3,867.8 936.3,866.3 936.4,864.8 936.4,863.3 936.4,861.8 936.5,860.3 936.5,858.8 936.5,857.3 936.6,855.8 936.6,854.3 936.6,852.8 936.7,851.3 936.7,849.8 936.8,848.3 936.8,846.8 936.8,845.3 936.9,843.8 936.9,842.2 936.9,840.7 937.0,839.2 937.0,837.7 937.0,836.2 937.1,834.7 937.1,833.2 937.1,831.7 937.2,830.2 937.2,828.7 937.2,827.2 937.3,825.7 937.3,824.2 937.4,822.7 937.4,821.2 937.4,819.7 937.5,818.2 937.5,816.7 937.5,815.1 937.6,813.6 937.6,812.1 937.7,810.6 937.7,809.1 937.7,807.6 937.8,806.1 937.8,804.6 937.8,803.1 937.9,801.6 937.9,800.1 938.0,798.6 938.0,797.1 938.0,795.6 938.1,794.1 938.1,792.6 938.2,791.1 938.2,789.5 938.3,788.0 938.3,786.5 938.3,785.0 938.4,783.5 938.4,782.0 938.5,780.5 938.5,779.0 938.6,777.5 938.6,776.0 938.6,774.5 938.7,773.0 938.7,771.5 938.8,770.0 938.9,768.5 938.9,767.0 939.0,765.5 939.0,764.0 939.1,762.5 939.1,761.0 939.2,759.4 939.3,757.9 939.3,756.4 939.4,754.9 939.5,753.4 939.6,751.9 939.6,750.4 939.7,748.9 939.8,747.4 939.9,745.9 940.0,744.4 940.1,742.9 940.2,741.4 940.3,739.9 940.5,738.4 940.6,736.9 940.8,735.4 940.9,733.9 941.1,732.4 941.3,730.9 941.4,729.4 941.6,727.9 941.8,726.4 942.0,724.9 942.3,723.4 942.5,722.0 942.7,720.5 943.0,719.0 943.3,717.5 943.5,716.0 943.8,714.5 944.1,713.1 944.3,711.6 944.6,710.1 944.9,708.6 945.2,707.1 945.5,705.7 945.8,704.2 946.1,702.7 946.4,701.2 946.8,699.8 947.1,698.3 947.4,696.8 947.8,695.4 948.1,693.9 948.4,692.4 948.8,691.0 949.2,689.5 949.5,688.0 949.9,686.6 950.3,685.1 950.7,683.7 951.1,682.2 951.5,680.8 951.9,679.3 952.3,677.9 952.7,676.4 953.2,675.0 953.6,673.5 954.1,672.1 954.6,670.7 955.0,669.3 955.5,667.8 956.0,666.4 956.6,665.0 957.1,663.6 957.6,662.2 958.2,660.8 958.8,659.4 959.4,658.0 960.0,656.6 960.6,655.2 961.2,653.9 961.8,652.5 962.5,651.2 963.2,649.8 963.9,648.5 964.6,647.2 965.3,645.8 966.1,644.5 966.8,643.2 967.6,641.9 968.4,640.7 969.2,639.4 970.0,638.1 970.8,636.9 971.7,635.6 972.5,634.4 973.4,633.1 974.3,631.9 975.1,630.7 976.0,629.5 976.9,628.2 977.8,627.0 978.8,625.9 979.7,624.7 980.6,623.5 981.6,622.3 982.6,621.2 983.5,620.0 984.5,618.9 985.5,617.7 986.5,616.6 987.5,615.5 988.5,614.4 989.6,613.3 990.6,612.2 991.7,611.1 992.7,610.1 993.8,609.0 994.9,608.0 996.0,607.0 997.1,605.9 998.2,604.9 999.4,604.0 1000.5,603.0 1001.7,602.0 1002.9,601.1 1004.1,600.2 1005.3,599.3 1006.5,598.4 1007.7,597.5 1009.0,596.7 1010.2,595.8 1011.5,595.0 1012.7,594.2 1014.0,593.3 1015.3,592.5 1016.5,591.7 1017.8,590.9 1019.1,590.1 1020.4,589.4 1021.7,588.6 1023.0,587.8 1024.3,587.1 1025.6,586.3 1026.9,585.6 1028.2,584.8 1029.5,584.1 1030.8,583.3 1032.2,582.6 1033.5,581.9 1034.8,581.2 1036.1,580.5 1037.5,579.8 1038.8,579.1 1040.1,578.4 1041.5,577.7 1042.8,577.0 1044.2,576.4 1045.5,575.7 1046.9,575.1 1048.3,574.4 1049.6,573.8 1051.0,573.2 1052.4,572.5 1053.7,571.9 1055.1,571.3 1056.5,570.7 1057.9,570.1 1059.3,569.5 1060.6,568.9 1062.0,568.3 1063.4,567.7 1064.8,567.2 1066.2,566.6 1067.6,566.0 1069.0,565.5 1070.4,564.9 1071.8,564.4 1073.2,563.8 1074.6,563.3 1076.0,562.7 1077.4,562.2 1078.8,561.7 1080.2,561.1 1081.7,560.6 1083.1,560.1 1084.5,559.6 1085.9,559.1 1087.3,558.6 1088.7,558.1 1090.2,557.5 1091.6,557.0 1093.0,556.5 1094.4,556.1 1095.9,555.6 1097.3,555.1 1098.7,554.6 1100.1,554.2 1101.6,553.7 1103.0,553.3 1104.5,552.8 1105.9,552.4 1107.3,552.0 1108.8,551.5 1110.2,551.1 1111.7,550.7 1113.1,550.3 1114.6,549.9 1116.1,549.5 1117.5,549.2 1119.0,548.8 1120.4,548.5 1121.9,548.1 1123.4,547.8 1124.8,547.5 1126.3,547.1 1127.8,546.8 1129.3,546.5 1130.7,546.2 1132.2,545.9 1133.7,545.6 1135.2,545.3 1136.6,545.1 1138.1,544.8 1139.6,544.5 1141.1,544.2 1142.6,544.0 1144.1,543.7 1145.5,543.4 1147.0,543.2 1148.5,542.9 1150.0,542.7" stroke="#1465dd" stroke-width="6.6"/><path d="M309.9,102.7L311.4,103.1 312.8,103.4 314.3,103.8 315.7,104.2 317.2,104.6 318.7,104.9 320.1,105.3 321.6,105.6 323.0,106.0 324.5,106.4 326.0,106.7 327.4,107.1 328.9,107.5 330.4,107.8 331.8,108.2 333.3,108.5 334.7,108.9 336.2,109.2 337.7,109.6 339.1,109.9 340.6,110.3 342.1,110.6 343.5,111.0 345.0,111.3 346.5,111.7 347.9,112.0 349.4,112.3 350.9,112.7 352.3,113.0 353.8,113.4 355.3,113.7 356.7,114.0 358.2,114.4 359.7,114.7 361.1,115.1 362.6,115.4 364.1,115.8 365.5,116.1 367.0,116.5 368.4,116.9 369.9,117.2 371.4,117.6 372.8,117.9 374.3,118.3 375.8,118.6 377.2,119.0 378.7,119.3 380.2,119.7 381.6,120.1 383.1,120.4 384.5,120.8 386.0,121.2 387.5,121.5 388.9,121.9 390.4,122.3 391.8,122.7 393.3,123.0 394.7,123.4 396.2,123.8 397.6,124.2 399.1,124.6 400.6,125.0 402.0,125.4 403.5,125.8 404.9,126.2 406.4,126.6 407.8,127.0 409.3,127.4 410.7,127.8 412.2,128.2 413.6,128.6 415.1,129.0 416.5,129.4 418.0,129.8 419.4,130.2 420.9,130.6 422.3,131.0 423.8,131.4 425.2,131.8 426.7,132.2 428.1,132.6 429.6,133.0 431.0,133.4 432.5,133.9 433.9,134.3 435.4,134.7 436.8,135.1 438.3,135.5 439.7,135.9 441.2,136.3 442.6,136.7 444.1,137.1 445.5,137.5 447.0,137.9 448.4,138.3 449.9,138.7 451.3,139.1 452.8,139.5 454.2,139.9 455.7,140.3 457.1,140.7 458.6,141.1 460.0,141.5 461.5,141.9 462.9,142.3 464.4,142.7 465.9,143.1 467.3,143.5 468.8,143.9 470.2,144.3 471.7,144.7 473.1,145.1 474.6,145.5 476.0,145.9 477.5,146.3 478.9,146.8 480.4,147.2 481.8,147.6 483.3,148.0 484.7,148.4 486.2,148.8 487.6,149.2 489.0,149.6 490.5,150.0 491.9,150.5 493.4,150.9 494.8,151.3 496.3,151.7 497.7,152.1 499.2,152.6 500.6,153.0 502.1,153.4 503.5,153.9 504.9,154.3 506.4,154.7 507.8,155.2 509.3,155.6 510.7,156.1 512.1,156.5 513.6,157.0 515.0,157.4 516.4,157.9 517.9,158.3 519.3,158.8 520.7,159.3 522.2,159.7 523.6,160.2 525.0,160.6 526.5,161.1 527.9,161.6 529.3,162.0 530.8,162.5 532.2,163.0 533.6,163.4 535.1,163.9 536.5,164.4 537.9,164.8 539.4,165.3 540.8,165.8 542.2,166.3 543.6,166.8 545.1,167.2 546.5,167.7 547.9,168.2 549.3,168.7 550.8,169.2 552.2,169.7 553.6,170.1 555.0,170.6 556.5,171.1 557.9,171.6 559.3,172.1 560.7,172.6 562.2,173.1 563.6,173.6 565.0,174.0 566.4,174.5 567.9,175.0 569.3,175.5 570.7,176.0 572.1,176.5 573.5,177.0 575.0,177.5 576.4,178.0 577.8,178.5 579.2,179.1 580.6,179.6 582.0,180.1 583.5,180.6 584.9,181.1 586.3,181.7 587.7,182.2 589.1,182.7 590.5,183.2 591.9,183.8 593.3,184.3 594.7,184.8 596.1,185.4 597.6,185.9 599.0,186.5 600.3,187.0 601.7,187.6 603.1,188.2 604.5,188.8 605.9,189.3 607.3,189.9 608.7,190.5 610.1,191.1 611.4,191.7 612.8,192.3 614.2,193.0 615.6,193.6 616.9,194.2 618.3,194.9 619.7,195.5 621.0,196.2 622.4,196.8 623.7,197.5 625.0,198.2 626.4,198.9 627.7,199.6 629.0,200.3 630.4,201.0 631.7,201.8 633.0,202.5 634.3,203.2 635.6,204.0 636.9,204.8 638.2,205.5 639.5,206.3 640.7,207.1 642.0,207.9 643.3,208.8 644.5,209.6 645.8,210.4 647.0,211.3 648.3,212.1 649.5,213.0 650.7,213.9 651.9,214.8 653.1,215.7 654.3,216.6 655.5,217.6 656.7,218.5 657.8,219.5 659.0,220.4 660.1,221.4 661.3,222.4 662.4,223.4 663.6,224.4 664.7,225.4 665.8,226.4 666.9,227.4 668.0,228.4 669.1,229.5 670.2,230.5 671.3,231.6 672.3,232.6 673.4,233.7 674.5,234.8 675.5,235.8 676.5,236.9 677.6,238.0 678.6,239.1 679.6,240.2 680.7,241.3 681.7,242.4 682.7,243.6 683.7,244.7 684.6,245.8 685.6,247.0 686.6,248.2 687.5,249.3 688.5,250.5 689.4,251.7 690.3,252.9 691.2,254.1 692.1,255.3 693.0,256.5 693.8,257.8 694.7,259.0 695.5,260.3 696.3,261.5 697.1,262.8 697.9,264.1 698.6,265.4 699.4,266.7 700.1,268.0 700.8,269.4 701.5,270.7 702.2,272.1 702.9,273.4 703.5,274.8 704.1,276.1 704.7,277.5 705.3,278.9 705.9,280.3 706.5,281.7 707.1,283.1 707.6,284.5 708.1,285.9 708.7,287.3 709.2,288.7 709.7,290.1 710.2,291.5 710.7,293.0 711.2,294.4 711.6,295.8 712.1,297.3 712.6,298.7 713.0,300.1 713.4,301.6 713.9,303.0 714.3,304.5 714.7,305.9 715.1,307.4 715.5,308.8 715.9,310.3 716.2,311.7 716.6,313.2 717.0,314.7 717.3,316.1 717.6,317.6 718.0,319.1 718.3,320.5 718.6,322.0 718.9,323.5 719.2,325.0 719.5,326.4 719.8,327.9 720.0,329.4 720.3,330.9 720.5,332.4 720.8,333.9 721.0,335.3 721.3,336.8 721.5,338.3 721.7,339.8 721.9,341.3 722.1,342.8 722.3,344.3 722.5,345.8 722.7,347.3 722.9,348.8 723.1,350.3 723.2,351.8 723.4,353.3 723.6,354.8 723.7,356.2 723.9,357.7 724.0,359.2 724.2,360.7 724.3,362.2 724.4,363.7 724.6,365.2 724.7,366.7 724.8,368.2 724.9,369.7 725.0,371.3 725.1,372.8 725.2,374.3 725.3,375.8 725.4,377.3 725.5,378.8 725.6,380.3 725.7,381.8 725.7,383.3 725.8,384.8 725.9,386.3 726.0,387.8 726.0,389.3 726.1,390.8 726.2,392.3 726.2,393.8 726.3,395.3 726.3,396.8 726.4,398.3 726.4,399.8 726.5,401.3 726.6,402.8 726.6,404.3 726.7,405.8 726.7,407.3 726.8,408.9 726.8,410.4 726.9,411.9 726.9,413.4 726.9,414.9 727.0,416.4 727.0,417.9 727.1,419.4 727.1,420.9 727.2,422.4 727.2,423.9 727.2,425.4 727.3,426.9 727.3,428.4 727.4,429.9 727.4,431.4 727.4,432.9 727.5,434.4 727.5,435.9 727.6,437.5 727.6,439.0 727.6,440.5 727.7,442.0 727.7,443.5 727.7,445.0 727.8,446.5 727.8,448.0 727.8,449.5 727.9,451.0 727.9,452.5 727.9,454.0 728.0,455.5 728.0,457.0 728.0,458.5 728.0,460.0 728.1,461.5 728.1,463.0 728.1,464.6 728.1,466.1 728.2,467.6 728.2,469.1 728.2,470.6 728.2,472.1 728.3,473.6 728.3,475.1 728.3,476.6 728.3,478.1 728.3,479.6 728.4,481.1 728.4,482.6 728.4,484.1 728.4,485.6 728.4,487.1 728.5,488.6 728.5,490.1 728.5,491.7 728.5,493.2 728.5,494.7 728.6,496.2 728.6,497.7 728.6,499.2 728.6,500.7 728.6,502.2 728.6,503.7 728.7,505.2 728.7,506.7 728.7,508.2 728.7,509.7 728.7,511.2 728.7,512.7 728.7,514.2 728.8,515.7 728.8,517.3 728.8,518.8 728.8,520.3 728.8,521.8 728.8,523.3 728.8,524.8 728.8,526.3 728.9,527.8 728.9,529.3 728.9,530.8 728.9,532.3 728.9,533.8 728.9,535.3 728.9,536.8 728.9,538.3 729.0,539.8 729.0,541.3 729.0,542.8 729.0,544.4 729.0,545.9 729.0,547.4 729.0,548.9 729.0,550.4 729.0,551.9 729.1,553.4 729.1,554.9 729.1,556.4 729.1,557.9 729.1,559.4 729.1,560.9 729.1,562.4 729.1,563.9 729.1,565.4 729.1,566.9 729.1,568.4 729.2,570.0 729.2,571.5 729.2,573.0 729.2,574.5 729.2,576.0 729.2,577.5 729.2,579.0 729.2,580.5 729.2,582.0L729.2,580.5 729.2,579.0 729.3,577.5 729.3,576.0 729.3,574.5 729.3,573.0 729.4,571.5 729.4,570.0 729.4,568.5 729.4,567.0 729.4,565.5 729.5,564.0 729.5,562.4 729.5,560.9 729.5,559.4 729.6,557.9 729.6,556.4 729.6,554.9 729.6,553.4 729.6,551.9 729.7,550.4 729.7,548.9 729.7,547.4 729.7,545.9 729.8,544.4 729.8,542.9 729.8,541.4 729.8,539.9 729.8,538.4 729.9,536.9 729.9,535.4 729.9,533.9 729.9,532.4 729.9,530.9 730.0,529.4 730.0,527.9 730.0,526.3 730.0,524.8 730.1,523.3 730.1,521.8 730.1,520.3 730.1,518.8 730.1,517.3 730.2,515.8 730.2,514.3 730.2,512.8 730.2,511.3 730.2,509.8 730.3,508.3 730.3,506.8 730.3,505.3 730.3,503.8 730.3,502.3 730.4,500.8 730.4,499.3 730.4,497.8 730.4,496.3 730.4,494.8 730.5,493.3 730.5,491.8 730.5,490.2 730.5,488.7 730.5,487.2 730.6,485.7 730.6,484.2 730.6,482.7 730.6,481.2 730.6,479.7 730.7,478.2 730.7,476.7 730.7,475.2 730.7,473.7 730.7,472.2 730.8,470.7 730.8,469.2 730.8,467.7 730.8,466.2 730.8,464.7 730.9,463.2 730.9,461.7 730.9,460.2 730.9,458.7 731.0,457.2 731.0,455.7 731.0,454.1 731.0,452.6 731.0,451.1 731.1,449.6 731.1,448.1 731.1,446.6 731.1,445.1 731.2,443.6 731.2,442.1 731.2,440.6 731.2,439.1 731.3,437.6 731.3,436.1 731.3,434.6 731.3,433.1 731.4,431.6 731.4,430.1 731.4,428.6 731.5,427.1 731.5,425.6 731.5,424.1 731.6,422.6 731.6,421.1 731.7,419.6 731.7,418.0 731.7,416.5 731.8,415.0 731.8,413.5 731.9,412.0 731.9,410.5 732.0,409.0 732.0,407.5 732.1,406.0 732.1,404.5 732.2,403.0 732.2,401.5 732.3,400.0 732.4,398.5 732.4,397.0 732.5,395.5 732.6,394.0 732.6,392.5 732.7,391.0 732.8,389.5 732.9,388.0 733.0,386.5 733.1,385.0 733.2,383.5 733.3,382.0 733.4,380.5 733.5,379.0 733.6,377.5 733.7,376.0 733.8,374.5 733.9,373.0 734.1,371.5 734.2,370.0 734.3,368.5 734.5,367.0 734.6,365.5 734.8,364.0 735.0,362.5 735.1,361.0 735.3,359.5 735.4,358.0 735.6,356.5 735.8,355.0 736.0,353.5 736.2,352.0 736.4,350.5 736.6,349.1 736.8,347.6 737.0,346.1 737.2,344.6 737.4,343.1 737.6,341.6 737.8,340.1 738.0,338.6 738.3,337.1 738.5,335.7 738.7,334.2 739.0,332.7 739.3,331.2 739.5,329.7 739.8,328.3 740.1,326.8 740.4,325.3 740.7,323.8 741.0,322.4 741.3,320.9 741.7,319.4 742.0,318.0 742.4,316.5 742.7,315.0 743.1,313.6 743.4,312.1 743.8,310.6 744.1,309.2 744.5,307.7 744.9,306.3 745.2,304.8 745.6,303.3 746.0,301.9 746.4,300.4 746.7,299.0 747.1,297.5 747.5,296.1 748.0,294.6 748.4,293.2 748.9,291.8 749.4,290.4 749.9,288.9 750.5,287.5 751.0,286.1 751.6,284.7 752.2,283.4 752.8,282.0 753.5,280.6 754.1,279.3 754.8,277.9 755.5,276.6 756.2,275.3 756.9,274.0 757.7,272.7 758.5,271.4 759.2,270.1 760.0,268.8 760.8,267.5 761.6,266.2 762.4,265.0 763.3,263.7 764.1,262.5 765.0,261.3 765.9,260.0 766.8,258.8 767.7,257.6 768.6,256.4 769.5,255.3 770.5,254.1 771.4,252.9 772.4,251.8 773.4,250.6 774.4,249.5 775.4,248.4 776.4,247.3 777.4,246.2 778.5,245.1 779.5,244.0 780.6,243.0 781.7,242.0 782.8,240.9 783.9,239.9 785.1,238.9 786.2,237.9 787.4,237.0 788.6,236.0 789.7,235.1 790.9,234.1 792.1,233.2 793.3,232.3 794.5,231.5 795.7,230.6 797.0,229.7 798.2,228.9 799.5,228.1 800.7,227.2 802.0,226.4 803.3,225.6 804.6,224.8 805.9,224.1 807.2,223.3 808.5,222.5 809.8,221.8 811.1,221.1 812.4,220.3 813.7,219.6 815.1,218.9 816.4,218.2 817.7,217.6 819.1,216.9 820.4,216.2 821.8,215.6 823.2,214.9 824.5,214.3 825.9,213.6 827.3,213.0 828.6,212.4 830.0,211.8 831.4,211.2 832.8,210.6 834.2,210.0 835.5,209.5 836.9,208.9 838.3,208.3 839.7,207.8 841.1,207.2 842.5,206.7 844.0,206.2 845.4,205.6 846.8,205.1 848.2,204.6 849.6,204.1 851.0,203.6 852.4,203.1 853.8,202.6 855.3,202.1 856.7,201.6 858.1,201.1 859.5,200.6 861.0,200.1 862.4,199.6 863.8,199.1 865.2,198.7 866.7,198.2 868.1,197.7 869.5,197.3 871.0,196.8 872.4,196.4 873.8,196.0 875.3,195.5 876.7,195.1 878.2,194.7 879.6,194.3 881.1,193.9 882.5,193.5 884.0,193.1 885.4,192.7 886.9,192.4 888.4,192.0 889.8,191.6 891.3,191.3 892.7,191.0 894.2,190.6 895.7,190.3 897.1,190.0 898.6,189.6 900.1,189.3 901.6,189.0 903.0,188.7 904.5,188.4 906.0,188.1 907.4,187.7 908.9,187.4 910.4,187.1 911.9,186.8 913.3,186.6 914.8,186.3 916.3,186.0 917.8,185.7 919.2,185.4 920.7,185.1 922.2,184.8 923.7,184.6 925.2,184.3 926.6,184.0 928.1,183.7 929.6,183.5 931.1,183.2 932.6,182.9 934.0,182.7 935.5,182.4 937.0,182.2 938.5,181.9 940.0,181.6 941.5,181.4 942.9,181.1 944.4,180.9 945.9,180.7 947.4,180.4 948.9,180.2 950.4,180.0 951.9,179.7 953.3,179.5 954.8,179.3 956.3,179.0 957.8,178.8 959.3,178.6 960.8,178.4 962.3,178.2 963.8,178.0 965.2,177.8 966.7,177.6 968.2,177.4 969.7,177.2 971.2,177.0 972.7,176.8 974.2,176.6 975.7,176.4 977.2,176.2 978.7,176.0 980.2,175.8 981.7,175.7 983.2,175.5 984.6,175.3 986.1,175.1 987.6,174.9 989.1,174.8 990.6,174.6 992.1,174.4 993.6,174.2 995.1,174.1 996.6,173.9 998.1,173.7 999.6,173.6 1001.1,173.4 1002.6,173.2 1004.1,173.1 1005.6,172.9 1007.1,172.7 1008.6,172.6 1010.1,172.4 1011.6,172.2 1013.0,172.1 1014.5,171.9 1016.0,171.7 1017.5,171.6 1019.0,171.4 1020.5,171.2 1022.0,171.1 1023.5,170.9 1025.0,170.7 1026.5,170.6 1028.0,170.4 1029.5,170.2 1031.0,170.1 1032.5,169.9 1034.0,169.7 1035.5,169.6 1037.0,169.4 1038.5,169.3 1040.0,169.1 1041.5,168.9 1043.0,168.8 1044.4,168.6 1045.9,168.5 1047.4,168.3 1048.9,168.1 1050.4,168.0 1051.9,167.8 1053.4,167.7 1054.9,167.5 1056.4,167.4 1057.9,167.3 1059.4,167.1 1060.9,167.0 1062.4,166.8 1063.9,166.7 1065.4,166.5 1066.9,166.4 1068.4,166.3 1069.9,166.1 1071.4,166.0 1072.9,165.9 1074.4,165.7 1075.9,165.6 1077.4,165.5 1078.9,165.4 1080.4,165.2 1081.9,165.1 1083.4,165.0 1084.9,164.8 1086.4,164.7 1087.9,164.6 1089.4,164.5 1090.9,164.4 1092.4,164.2 1093.9,164.1 1095.4,164.0 1096.9,163.9 1098.4,163.8 1099.9,163.7 1101.4,163.5 1102.9,163.4 1104.4,163.3 1105.9,163.2 1107.4,163.1 1108.9,163.0 1110.4,162.8 1111.9,162.7 1113.4,162.6 1114.9,162.5 1116.4,162.4 1117.9,162.3 1119.4,162.2 1120.9,162.1 1122.4,162.0 1123.9,161.9 1125.4,161.8 1126.9,161.6 1128.4,161.5 1129.9,161.4 1131.4,161.3 1132.9,161.2 1134.4,161.1 1135.9,161.0 1137.4,160.9 1138.9,160.8 1140.4,160.7 1141.9,160.6 1143.4,160.5 1144.9,160.4 1146.4,160.3 1147.9,160.2 1149.4,160.1 1150.9,160.0" stroke="#00ff00" stroke-width="7.2"/>
</g>
<g stroke="#000" stroke-width="6" fill="none">
<line x1="205.3" y1="41" x2="205.3" y2="1067" stroke-width="6.6"/>
<line x1="1465.5" y1="41" x2="1465.5" y2="1067"/>
<line x1="202" y1="1064" x2="1468.5" y2="1064" stroke-width="7"/>
<line x1="226" y1="44" x2="1468.5" y2="44" stroke="#474747" stroke-width="7"/>
<line x1="202" y1="44" x2="226" y2="44"/>
<line x1="205" y1="44.0" x2="224.5" y2="44.0"/><line x1="205" y1="104.0" x2="214.5" y2="104.0"/><line x1="205" y1="164.1" x2="224.5" y2="164.1"/><line x1="205" y1="224.1" x2="214.5" y2="224.1"/><line x1="205" y1="284.2" x2="224.5" y2="284.2"/><line x1="205" y1="344.2" x2="214.5" y2="344.2"/><line x1="205" y1="404.3" x2="224.5" y2="404.3"/><line x1="205" y1="464.3" x2="214.5" y2="464.3"/><line x1="205" y1="524.4" x2="224.5" y2="524.4"/><line x1="205" y1="584.4" x2="214.5" y2="584.4"/><line x1="205" y1="644.5" x2="224.5" y2="644.5"/><line x1="205" y1="704.5" x2="214.5" y2="704.5"/><line x1="205" y1="764.6" x2="224.5" y2="764.6"/><line x1="205" y1="824.6" x2="214.5" y2="824.6"/><line x1="205" y1="884.7" x2="224.5" y2="884.7"/><line x1="205" y1="944.8" x2="214.5" y2="944.8"/><line x1="205" y1="1004.8" x2="224.5" y2="1004.8"/><line x1="310.0" y1="1063.5" x2="310.0" y2="1044.5"/><line x1="415.1" y1="1063.5" x2="415.1" y2="1054.5"/><line x1="520.1" y1="1063.5" x2="520.1" y2="1044.5"/><line x1="625.1" y1="1063.5" x2="625.1" y2="1054.5"/><line x1="730.1" y1="1063.5" x2="730.1" y2="1044.5"/><line x1="835.2" y1="1063.5" x2="835.2" y2="1054.5"/><line x1="940.2" y1="1063.5" x2="940.2" y2="1044.5"/><line x1="1045.2" y1="1063.5" x2="1045.2" y2="1054.5"/><line x1="1150.2" y1="1063.5" x2="1150.2" y2="1044.5"/><line x1="1255.2" y1="1063.5" x2="1255.2" y2="1054.5"/><line x1="1360.3" y1="1063.5" x2="1360.3" y2="1044.5"/>
</g>
<g class="yl"><text x="183" y="66.3" text-anchor="end">2</text><rect x="123.6" y="46.0" width="21.5" height="6.6" fill="#000"/><text x="183" y="186.4" text-anchor="end">3</text><rect x="123.6" y="166.1" width="21.5" height="6.6" fill="#000"/><text x="183" y="306.5" text-anchor="end">4</text><rect x="123.6" y="286.2" width="21.5" height="6.6" fill="#000"/><text x="183" y="426.6" text-anchor="end">5</text><rect x="123.6" y="406.3" width="21.5" height="6.6" fill="#000"/><text x="183" y="546.7" text-anchor="end">6</text><rect x="123.6" y="526.4" width="21.5" height="6.6" fill="#000"/><text x="183" y="666.8" text-anchor="end">7</text><rect x="123.6" y="646.5" width="21.5" height="6.6" fill="#000"/><text x="183" y="786.9" text-anchor="end">8</text><rect x="123.6" y="766.6" width="21.5" height="6.6" fill="#000"/><text x="183" y="907.0" text-anchor="end">9</text><rect x="123.6" y="886.7" width="21.5" height="6.6" fill="#000"/><text x="183" y="1027.1" text-anchor="end">10</text><rect x="85.1" y="1006.8" width="21.5" height="6.6" fill="#000"/></g>
<g class="xl"><text x="310.0" y="1135" text-anchor="middle">-2.0</text><text x="520.1" y="1135" text-anchor="middle">-1.5</text><text x="730.1" y="1135" text-anchor="middle">-1.0</text><text x="940.2" y="1135" text-anchor="middle">-0.5</text><text x="1150.2" y="1135" text-anchor="middle">0.0</text><text x="1360.3" y="1135" text-anchor="middle">0.5</text></g>
<g><line x1="265" y1="121" x2="396.5" y2="121" stroke="#3c3c3c" stroke-width="6.2" stroke-linecap="butt"/><line x1="265" y1="199.6" x2="396.5" y2="199.6" stroke="#ee3333" stroke-width="6.2" stroke-linecap="butt"/><line x1="265" y1="277.5" x2="396.5" y2="277.5" stroke="#1465dd" stroke-width="6.5" stroke-linecap="butt"/><line x1="265" y1="355" x2="396.5" y2="355" stroke="#00ff00" stroke-width="6.8" stroke-linecap="butt"/><text x="423" y="143.6" class="lt">5d</text><text x="424" y="222.2" class="lt">10d</text><text x="424" y="300.1" class="lt">15d</text><text x="424" y="377.6" class="lt">30d</text></g>
<text class="at" x="836" y="1249" text-anchor="middle">Potential(V)</text>
<text class="at2" transform="translate(59,553) rotate(-90)" text-anchor="middle">log(i/A))</text>
</svg>
</body></html>
